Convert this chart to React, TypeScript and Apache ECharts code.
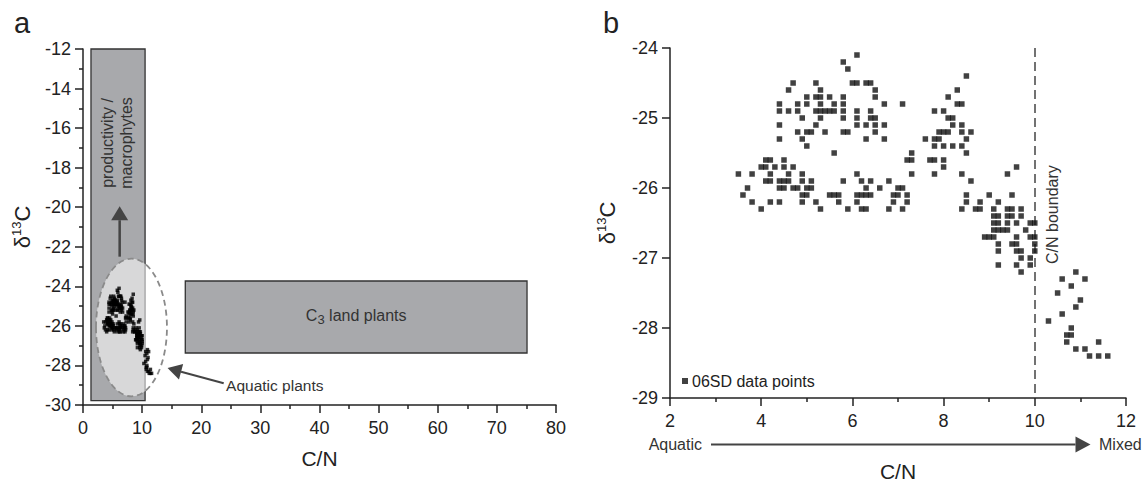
import React, { useEffect, useRef } from "react";
import * as echarts from "echarts";

// δ13C levels (‰) and the C/N values measured at each level (06SD core)
const d13cLevels: number[] = [
  -24.1, -24.2, -24.3, -24.4, -24.5, -24.6, -24.7, -24.8, -24.9, -25.0,
  -25.1, -25.2, -25.3, -25.4, -25.5, -25.6, -25.7, -25.8, -25.9, -26.0,
  -26.1, -26.2, -26.3, -26.4, -26.5, -26.6, -26.7, -26.8, -26.9, -27.0,
  -27.1, -27.2, -27.3, -27.4, -27.5, -27.6, -27.7, -27.8, -27.9, -28.0,
  -28.1, -28.2, -28.3, -28.4,
];
const cnAtLevel: number[][] = [
  [6.1],
  [5.8],
  [5.9],
  [8.5],
  [4.7, 5.2, 6.0, 6.1, 6.3, 6.4],
  [4.6, 5.3, 6.5, 8.3],
  [5.0, 5.2, 5.3, 5.5, 5.8, 6.5, 8.1],
  [4.4, 4.8, 5.0, 5.3, 5.6, 5.8, 6.7, 7.1, 8.3, 8.4],
  [4.4, 4.6, 4.8, 5.2, 5.3, 5.4, 5.5, 5.6, 5.8, 6.1, 6.4, 7.8, 8.0],
  [4.9, 5.3, 5.8, 6.1, 6.4, 6.5, 8.1, 8.2],
  [4.4, 5.2, 6.1, 6.3, 6.5, 6.7, 8.2, 8.4],
  [4.8, 5.0, 5.1, 5.4, 5.8, 5.9, 6.5, 7.9, 8.0, 8.1, 8.4, 8.6],
  [4.4, 4.9, 6.3, 6.7, 7.6, 7.8, 7.9, 8.5],
  [5.0, 7.8, 8.0, 8.2, 8.4],
  [5.6, 7.3, 8.5],
  [4.1, 4.2, 4.5, 7.2, 7.3, 7.7, 7.8, 8.0],
  [4.0, 4.1, 4.3, 4.5, 4.7, 8.0, 9.6],
  [3.5, 3.8, 4.2, 4.6, 4.9, 6.1, 7.3, 7.8, 8.4, 9.4],
  [4.1, 4.2, 4.4, 4.5, 4.6, 4.9, 5.1, 5.8, 6.2, 6.4, 6.8, 8.6],
  [3.7, 4.4, 4.5, 4.7, 4.8, 5.0, 5.1, 6.3, 6.6, 7.0, 7.1],
  [3.6, 4.9, 5.0, 5.5, 5.6, 5.7, 6.1, 6.2, 6.3, 6.4, 6.9, 7.0, 7.2, 8.5, 9.0, 9.5],
  [3.8, 4.2, 4.4, 4.9, 5.2, 5.7, 6.1, 6.9, 7.2, 8.5, 8.8, 9.2],
  [4.0, 5.3, 5.9, 6.2, 6.3, 6.8, 7.1, 8.4, 8.7, 8.8, 9.1, 9.4, 9.5, 9.7],
  [9.1, 9.2, 9.4, 9.5, 9.7],
  [9.1, 9.2, 9.4, 9.6, 9.9, 10.0],
  [9.1, 9.2, 9.3, 9.4, 9.8],
  [8.9, 9.0, 9.1, 9.6, 9.9, 10.0],
  [9.2, 9.5, 9.6, 10.0],
  [9.2, 9.6, 9.7, 10.0],
  [9.7, 9.9],
  [9.2, 9.6, 9.9],
  [9.7, 10.9],
  [10.6, 11.1],
  [10.8],
  [10.5],
  [11.0],
  [10.9],
  [10.6],
  [10.3],
  [10.8],
  [10.7, 10.8],
  [10.7, 11.4],
  [10.9, 11.1],
  [11.2, 11.4, 11.6],
];

// Axis ranges
const axisA = { xMin: 0, xMax: 80, xStep: 10, yMin: -30, yMax: -12, yStep: 2 };
const axisB = { xMin: 2, xMax: 12, xStep: 2, yMin: -29, yMax: -24, yStep: 1 };
const boundaryCN = 10;

// Annotation regions in panel a (data units)
const productivityBox = [1.35, -12, 10.5, -29.78];
const c3Box = [17.3, -23.73, 75.1, -27.37];
const aquaticEllipse = [8.2, -26.08, 6.0, 3.48];
const productivityArrow = [6.2, -22.5, 6.2, -19.95];
const aquaticArrow = [23.8, -28.9, 14.3, -28.13];

const FONT = "'Liberation Sans', Arial, Helvetica, sans-serif";
const INK = "#222";
const GREY = "#444";

function points(): number[][] {
  const out: number[][] = [];
  d13cLevels.forEach((y, i) => cnAtLevel[i].forEach((x) => out.push([x, y])));
  return out;
}

function axisCommon(extra: any) {
  return {
    type: "value",
    axisLine: { show: true, onZero: false, lineStyle: { color: INK, width: 1.5 } },
    axisTick: { show: true, inside: false, length: 8, lineStyle: { color: INK, width: 1.5 } },
    splitLine: { show: false },
    minorSplitLine: { show: false },
    axisLabel: { fontSize: 18, color: INK, fontFamily: FONT },
    nameTextStyle: { color: INK, fontFamily: FONT, fontSize: 21 },
    ...extra,
  };
}

const deltaName = "{d|δ}{s|13}{d|C}";
const deltaRich = {
  d: { fontSize: 22, fontFamily: FONT, color: INK, verticalAlign: "bottom" },
  s: { fontSize: 13, fontFamily: FONT, color: INK, verticalAlign: "top", padding: [0, 0, 10, 0] },
};

function arrowEls(p0: number[], p1: number[], head: number, half: number, color: string, width: number, z: number) {
  const dx = p1[0] - p0[0];
  const dy = p1[1] - p0[1];
  const L = Math.hypot(dx, dy);
  const ux = dx / L, uy = dy / L;
  const bx = p1[0] - ux * head, by = p1[1] - uy * head;
  const nx = -uy, ny = ux;
  return [
    { type: "line", z, shape: { x1: p0[0], y1: p0[1], x2: bx, y2: by }, style: { stroke: color, lineWidth: width } },
    {
      type: "polygon",
      z,
      shape: { points: [[p1[0], p1[1]], [bx + nx * half, by + ny * half], [bx - nx * half, by - ny * half]] },
      style: { fill: color },
    },
  ];
}

export default function App() {
  const ref = useRef<HTMLDivElement>(null);

  useEffect(() => {
    if (!ref.current) return;
    const chart = echarts.init(ref.current, undefined, { renderer: "svg" });
    const data = points();

    chart.setOption({
      animation: false,
      backgroundColor: "#fff",
      textStyle: { fontFamily: FONT },
      grid: [
        { left: 83, top: 49, width: 473, height: 356 },
        { left: 670, top: 48, width: 456, height: 357 },
      ],
      xAxis: [
        axisCommon({
          gridIndex: 0,
          min: axisA.xMin,
          max: axisA.xMax,
          interval: axisA.xStep,
          minorTick: { show: true, splitNumber: 2, length: 4, lineStyle: { color: INK, width: 1.5 } },
          axisLabel: { fontSize: 18, color: INK, fontFamily: FONT, margin: 14 },
          name: "C/N",
          nameLocation: "middle",
          nameGap: 43,
        }),
        axisCommon({
          gridIndex: 1,
          min: axisB.xMin,
          max: axisB.xMax,
          interval: axisB.xStep,
          minorTick: { show: true, splitNumber: 2, length: 4, lineStyle: { color: INK, width: 1.5 } },
          axisLabel: { fontSize: 18, color: INK, fontFamily: FONT, margin: 14 },
          name: "C/N",
          nameLocation: "middle",
          nameGap: 63,
        }),
      ],
      yAxis: [
        axisCommon({
          gridIndex: 0,
          min: axisA.yMin,
          max: axisA.yMax,
          interval: axisA.yStep,
          minorTick: { show: true, splitNumber: 2, length: 4, lineStyle: { color: INK, width: 1.5 } },
          axisLabel: { fontSize: 18, color: INK, fontFamily: FONT, margin: 12 },
          name: deltaName,
          nameLocation: "middle",
          nameGap: 50,
          nameTextStyle: { rich: deltaRich },
        }),
        axisCommon({
          gridIndex: 1,
          min: axisB.yMin,
          max: axisB.yMax,
          interval: axisB.yStep,
          axisLabel: { fontSize: 18, color: INK, fontFamily: FONT, margin: 12 },
          name: deltaName,
          nameLocation: "middle",
          nameGap: 52,
          nameTextStyle: { rich: deltaRich },
        }),
      ],
      legend: {
        show: true,
        data: [{ name: "06SD data points", icon: "rect" }],
        left: 682,
        top: 373,
        padding: 0,
        itemWidth: 6,
        itemHeight: 6,
        itemGap: 0,
        textStyle: { fontSize: 16, color: INK, fontFamily: FONT, padding: [0, 0, 0, -1] },
      },
      series: [
        {
          name: "06SD (overview)",
          type: "scatter",
          xAxisIndex: 0,
          yAxisIndex: 0,
          symbol: "rect",
          symbolSize: 3.5,
          itemStyle: { color: "#000" },
          data,
          z: 10,
        },
        {
          name: "06SD data points",
          type: "scatter",
          xAxisIndex: 1,
          yAxisIndex: 1,
          symbol: "rect",
          symbolSize: 5.5,
          itemStyle: { color: "#111" },
          data,
          z: 10,
          markLine: {
            silent: true,
            symbol: ["none", "none"],
            label: { show: false },
            lineStyle: { color: GREY, width: 1.5, type: [9, 5] },
            data: [[{ coord: [boundaryCN, axisB.yMax] }, { coord: [boundaryCN, axisB.yMin] }]],
          },
        },
      ],
    });

    const toA = (x: number, y: number) => chart.convertToPixel({ gridIndex: 0 } as any, [x, y]) as number[];
    const toB = (x: number, y: number) => chart.convertToPixel({ gridIndex: 1 } as any, [x, y]) as number[];

    const pb0 = toA(productivityBox[0], productivityBox[1]);
    const pb1 = toA(productivityBox[2], productivityBox[3]);
    const cb0 = toA(c3Box[0], c3Box[1]);
    const cb1 = toA(c3Box[2], c3Box[3]);
    const ec = toA(aquaticEllipse[0], aquaticEllipse[1]);
    const erx = toA(aquaticEllipse[0] + aquaticEllipse[2], aquaticEllipse[1])[0] - ec[0];
    const ery = ec[1] - toA(aquaticEllipse[0], aquaticEllipse[1] + aquaticEllipse[3])[1];
    const pa0 = toA(productivityArrow[0], productivityArrow[1]);
    const pa1 = toA(productivityArrow[2], productivityArrow[3]);
    const aa0 = toA(aquaticArrow[0], aquaticArrow[1]);
    const aa1 = toA(aquaticArrow[2], aquaticArrow[3]);
    const prodText1 = toA(4.2, -16.75);
    const prodText2 = toA(7.3, -16.75);
    const c3Text = toA(46.2, -25.55);
    const aqText = toA(24.2, -28.99);
    const bndText = toB(10.39, -26.38);
    const bAxisL = toB(axisB.xMin, axisB.yMin);
    const bAxisR = toB(axisB.xMax, axisB.yMin);

    const boxStyle = { fill: "#a8a9ac", stroke: "#333", lineWidth: 1.3 };
    const arrowY = bAxisL[1] + 46.5;

    chart.setOption({
      graphic: [
        { type: "rect", z: 0, shape: { x: pb0[0], y: pb0[1], width: pb1[0] - pb0[0], height: pb1[1] - pb0[1] }, style: boxStyle },
        { type: "rect", z: 0, shape: { x: cb0[0], y: cb0[1], width: cb1[0] - cb0[0], height: cb1[1] - cb0[1] }, style: boxStyle },
        {
          type: "ellipse",
          z: 1,
          shape: { cx: ec[0], cy: ec[1], rx: erx, ry: ery },
          style: { fill: "rgba(255,255,255,0.55)", stroke: "#8a8a8a", lineWidth: 1.8, lineDash: [6, 4] },
        },
        {
          type: "text",
          z: 3,
          x: prodText1[0],
          y: prodText1[1],
          rotation: Math.PI / 2,
          style: { text: "productivity /", fontSize: 16, fontFamily: FONT, fill: "#333", align: "center", verticalAlign: "middle" },
        },
        {
          type: "text",
          z: 3,
          x: prodText2[0],
          y: prodText2[1],
          rotation: Math.PI / 2,
          style: { text: "macrophytes", fontSize: 16, fontFamily: FONT, fill: "#333", align: "center", verticalAlign: "middle" },
        },
        ...arrowEls(pa0, pa1, 14, 8.5, GREY, 2.5, 3),
        {
          type: "text",
          z: 3,
          x: c3Text[0],
          y: c3Text[1],
          style: {
            text: "{n|C}{b|3}{n| land plants}",
            align: "center",
            verticalAlign: "middle",
            rich: {
              n: { fontSize: 16, fontFamily: FONT, fill: "#333", color: "#333", verticalAlign: "top" },
              b: { fontSize: 13, fontFamily: FONT, fill: "#333", color: "#333", verticalAlign: "bottom", padding: [6, 0, 0, 0] },
            },
          },
        },
        ...arrowEls(aa0, aa1, 14, 8, GREY, 2, 3),
        {
          type: "text",
          z: 3,
          x: aqText[0],
          y: aqText[1],
          style: { text: "Aquatic plants", fontSize: 15.5, fontFamily: FONT, fill: "#333", align: "left", verticalAlign: "middle" },
        },
        {
          type: "text",
          z: 3,
          x: bndText[0],
          y: bndText[1],
          rotation: Math.PI / 2,
          style: { text: "C/N boundary", fontSize: 16, fontFamily: FONT, fill: "#333", align: "center", verticalAlign: "middle" },
        },
        ...arrowEls([bAxisL[0] + 41, arrowY], [bAxisR[0] - 35.5, arrowY], 15, 8, GREY, 2, 3),
        {
          type: "text",
          z: 3,
          x: bAxisL[0] + 32,
          y: arrowY,
          style: { text: "Aquatic", fontSize: 16, fontFamily: FONT, fill: "#333", align: "right", verticalAlign: "middle" },
        },
        {
          type: "text",
          z: 3,
          x: bAxisR[0] - 27,
          y: arrowY,
          style: { text: "Mixed", fontSize: 16, fontFamily: FONT, fill: "#333", align: "left", verticalAlign: "middle" },
        },
        {
          type: "text",
          z: 3,
          x: 14,
          y: 23,
          style: { text: "a", fontSize: 29, fontFamily: FONT, fill: INK, align: "left", verticalAlign: "middle" },
        },
        {
          type: "text",
          z: 3,
          x: 603,
          y: 23,
          style: { text: "b", fontSize: 29, fontFamily: FONT, fill: INK, align: "left", verticalAlign: "middle" },
        },
      ],
    });

    return () => chart.dispose();
  }, []);

  return <div ref={ref} style={{ position: "absolute", left: 0, top: 0, width: 1143, height: 487 }} />;
}
